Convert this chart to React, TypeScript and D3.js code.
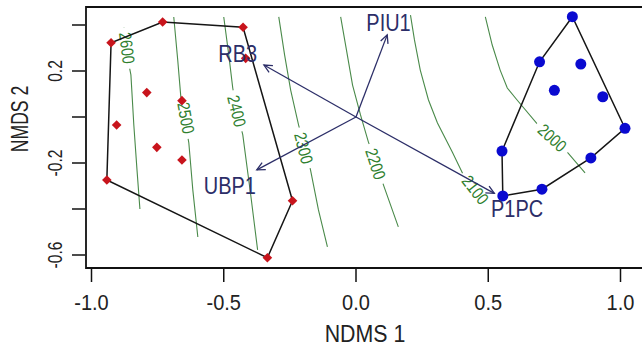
import React from "react";
import * as d3 from "d3";

// ---- axes ----
const xTicks = [-1.0, -0.5, 0.0, 0.5, 1.0];
const xTickLabels = ["-1.0", "-0.5", "0.0", "0.5", "1.0"];
const yTicks = [0.4, 0.2, 0.0, -0.2, -0.4, -0.6];
const yTickLabels = ["", "0.2", "", "-0.2", "", "-0.6"];
const xTitle = "NDMS 1";
const yTitle = "NMDS 2";

// ---- site scores: group 1 (red diamonds) ----
const redX = [-0.926, -0.731, -0.427, -0.417, -0.791, -0.658, -0.905, -0.753, -0.658, -0.942, -0.240, -0.335];
const redY = [0.323, 0.413, 0.390, 0.255, 0.106, 0.071, -0.035, -0.132, -0.187, -0.274, -0.364, -0.612];

// ---- site scores: group 2 (blue circles) ----
const blueX = [0.818, 0.694, 0.850, 0.750, 0.933, 1.017, 0.552, 0.888, 0.703, 0.555];
const blueY = [0.436, 0.240, 0.230, 0.116, 0.088, -0.049, -0.148, -0.178, -0.314, -0.343];

// ---- environmental vectors ----
const vectorNames = ["PIU1", "RB3", "UBP1", "P1PC"];
const vectorX = [0.118, -0.348, -0.375, 0.523];
const vectorY = [0.357, 0.226, -0.230, -0.332];
const vectorLabelX = [0.123, -0.447, -0.477, 0.609];
const vectorLabelY = [0.409, 0.276, -0.298, -0.400];

// ---- fitted surface contours (ordisurf) ----
const contourLevels = [2600, 2500, 2400, 2300, 2200, 2100, 2000];
const contour2600 = [[-0.877, 0.391], [-0.862, 0.248], [-0.851, 0.183], [-0.840, -0.035], [-0.828, -0.230], [-0.817, -0.400]];
const contour2500 = [[-0.689, 0.435], [-0.674, 0.248], [-0.662, 0.083], [-0.647, -0.013], [-0.632, -0.113], [-0.617, -0.317], [-0.598, -0.522]];
const contour2400 = [[-0.500, 0.435], [-0.481, 0.270], [-0.466, 0.126], [-0.451, 0.030], [-0.428, -0.078], [-0.398, -0.339], [-0.372, -0.578]];
const contour2300 = [[-0.292, 0.435], [-0.270, 0.270], [-0.247, 0.117], [-0.217, -0.035], [-0.194, -0.130], [-0.172, -0.230], [-0.142, -0.404], [-0.108, -0.565]];
const contour2200 = [[-0.058, 0.435], [-0.036, 0.291], [-0.013, 0.139], [0.017, 0.009], [0.047, -0.109], [0.077, -0.200], [0.104, -0.296], [0.160, -0.478]];
const contour2100 = [[0.206, 0.443], [0.221, 0.335], [0.243, 0.204], [0.274, 0.074], [0.308, -0.026], [0.364, -0.152], [0.406, -0.252], [0.451, -0.317], [0.496, -0.383]];
const contour2000 = [[0.489, 0.435], [0.515, 0.313], [0.545, 0.204], [0.572, 0.126], [0.609, 0.074], [0.685, -0.030], [0.742, -0.091], [0.802, -0.157], [0.866, -0.243]];
const contourLines = [contour2600, contour2500, contour2400, contour2300, contour2200, contour2100, contour2000];
const contourLabelX = [-0.866, -0.643, -0.451, -0.198, 0.074, 0.451, 0.742];
const contourLabelY = [0.300, -0.004, 0.026, -0.135, -0.204, -0.317, -0.091];

const W = 642;
const H = 352;
const FONT = "'Liberation Sans', Arial, Helvetica, sans-serif";

export default function App() {
  const x = d3.scaleLinear().domain([-1, 1]).range([91.5, 620.5]);
  const y = d3.scaleLinear().domain([-0.6, 0.2]).range([255, 71]);
  const left = 86, top = 7, bottom = 268, right = 660;

  const line = d3.line<number[]>().x((d) => x(d[0])).y((d) => y(d[1]));

  const redPts: [number, number][] = redX.map((v, i) => [x(v), y(redY[i])]);
  const bluePts: [number, number][] = blueX.map((v, i) => [x(v), y(blueY[i])]);
  const redHull = d3.polygonHull(redPts) || [];
  const blueHull = d3.polygonHull(bluePts) || [];

  const navy = "#2c2e68";
  const green = "#4a8a4a";

  const contourLabels = contourLevels.map((lev, k) => {
    const cx = x(contourLabelX[k]);
    const cy = y(contourLabelY[k]);
    const pts = contourLines[k].map((d) => [x(d[0]), y(d[1])]);
    let best = 0, bestD = Infinity;
    for (let i = 0; i < pts.length - 1; i++) {
      const mx = (pts[i][0] + pts[i + 1][0]) / 2;
      const my = (pts[i][1] + pts[i + 1][1]) / 2;
      const dd = (mx - cx) ** 2 + (my - cy) ** 2;
      if (dd < bestD) { bestD = dd; best = i; }
    }
    let ang = (Math.atan2(pts[best + 1][1] - pts[best][1], pts[best + 1][0] - pts[best][0]) * 180) / Math.PI;
    if (ang > 90) ang -= 180;
    if (ang < -90) ang += 180;
    return { lev, cx, cy, ang };
  });

  const arrowHead = (x0: number, y0: number, x1: number, y1: number) => {
    const a = Math.atan2(y1 - y0, x1 - x0);
    const L = 9, spread = Math.PI / 7;
    const p1 = [x1 - L * Math.cos(a - spread), y1 - L * Math.sin(a - spread)];
    const p2 = [x1 - L * Math.cos(a + spread), y1 - L * Math.sin(a + spread)];
    return `M${p1[0]},${p1[1]}L${x1},${y1}L${p2[0]},${p2[1]}`;
  };

  return (
    <svg width={W} height={H} style={{ position: "absolute", left: 0, top: 0, background: "#fff" }} fontFamily={FONT}>
      <rect x={0} y={0} width={W} height={H} fill="#fff" />
      {/* contours */}
      <g>
        {contourLines.map((c, k) => (
          <path key={k} d={line(c) || ""} fill="none" stroke={green} strokeWidth={1.1} />
        ))}
        {contourLabels.map((c) => (
          <g key={c.lev} transform={`translate(${c.cx},${c.cy}) rotate(${c.ang})`}>
            <rect x={-21} y={-4} width={42} height={8} fill="#fff" />
            <text transform="scale(0.95,1.15)" textAnchor="middle" dominantBaseline="central" fontSize={15} fill="#2f7f2f">
              {c.lev}
            </text>
          </g>
        ))}
      </g>
      {/* hulls */}
      <path d={`M${redHull.map((p) => p.join(",")).join("L")}Z`} fill="none" stroke="#151515" strokeWidth={1.5} />
      <path d={`M${blueHull.map((p) => p.join(",")).join("L")}Z`} fill="none" stroke="#151515" strokeWidth={1.5} />
      {/* points */}
      {redPts.map((p, i) => (
        <path key={"r" + i} d={`M${p[0]},${p[1] - 4.8}L${p[0] + 4.8},${p[1]}L${p[0]},${p[1] + 4.8}L${p[0] - 4.8},${p[1]}Z`} fill="#c8141c" />
      ))}
      {bluePts.map((p, i) => (
        <circle key={"b" + i} cx={p[0]} cy={p[1]} r={5.5} fill="#0a0ad0" />
      ))}
      {/* vectors */}
      {vectorNames.map((n, i) => {
        const x0 = x(0), y0 = y(0), x1 = x(vectorX[i]), y1 = y(vectorY[i]);
        return (
          <g key={n}>
            <line x1={x0} y1={y0} x2={x1} y2={y1} stroke={navy} strokeWidth={1.3} />
            <path d={arrowHead(x0, y0, x1, y1)} fill="none" stroke={navy} strokeWidth={1.3} />
          </g>
        );
      })}
      {vectorNames.map((n, i) => (
        <text key={"t" + n} transform={`translate(${x(vectorLabelX[i])},${y(vectorLabelY[i])}) scale(0.95,1.12)`} textAnchor="middle" dominantBaseline="central" fontSize={21} fill={navy}>
          {n}
        </text>
      ))}
      {/* box */}
      <path d={`M${right},${top}L${left},${top}L${left},${bottom}L${right},${bottom}`} fill="none" stroke="#111" strokeWidth={1.8} />
      {/* x axis */}
      {xTicks.map((t, i) => (
        <g key={"xt" + i}>
          <line x1={x(t)} x2={x(t)} y1={269} y2={282} stroke="#111" strokeWidth={1.5} />
          <text transform={`translate(${x(t)},310) scale(1,1.08)`} textAnchor="middle" fontSize={20} fill="#222">
            {xTickLabels[i]}
          </text>
        </g>
      ))}
      {/* y axis */}
      {yTicks.map((t, i) => (
        <g key={"yt" + i}>
          <line x1={72} x2={85} y1={y(t)} y2={y(t)} stroke="#111" strokeWidth={1.5} />
          {yTickLabels[i] && (
            <text transform={`translate(62,${y(t)}) rotate(-90) scale(0.78,1.05)`} textAnchor="middle" fontSize={20} fill="#222">
              {yTickLabels[i]}
            </text>
          )}
        </g>
      ))}
      <text transform="translate(365,342) scale(0.97,1.08)" textAnchor="middle" fontSize={22} fill="#222">
        {xTitle}
      </text>
      <text transform={`translate(28,119) rotate(-90) scale(0.8,1.05)`} textAnchor="middle" fontSize={22} fill="#222">
        {yTitle}
      </text>
    </svg>
  );
}
